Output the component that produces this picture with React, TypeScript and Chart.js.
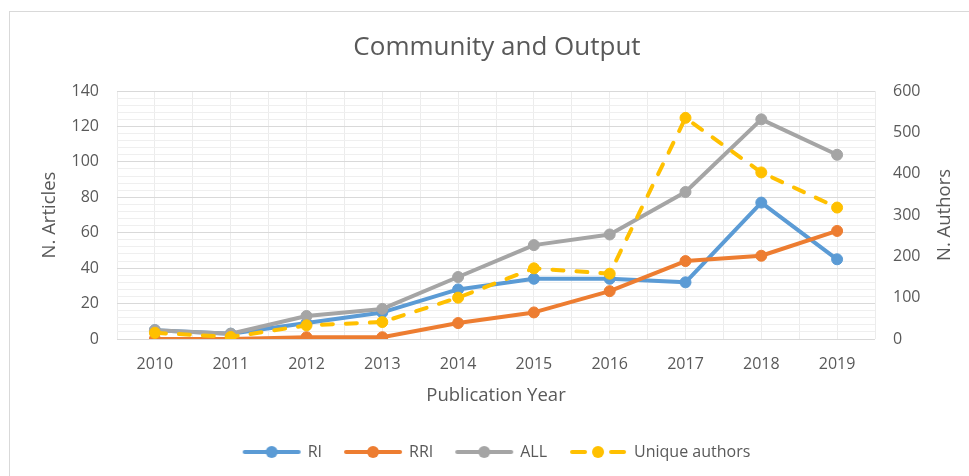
import React, { useEffect, useRef } from "react";
import { Chart, registerables } from "chart.js";

Chart.register(...registerables);

const years = ["2010", "2011", "2012", "2013", "2014", "2015", "2016", "2017", "2018", "2019"];
const riValues = [5, 3, 9, 15, 28, 34, 34, 32, 77, 45];
const rriValues = [0, 0, 1, 1, 9, 15, 27, 44, 47, 61];
const allValues = [5, 3, 13, 17, 35, 53, 59, 83, 124, 104];
const uniqueAuthors = [15, 5, 33, 41, 100, 171, 158, 535, 403, 318];
const rightAxisTitle = "N. Authors";

const FONT = "'Open Sans', 'DejaVu Sans', sans-serif";
const TEXT = "#595959";

function legendIcon(color: string, dashed: boolean): HTMLCanvasElement {
  const c = document.createElement("canvas");
  c.width = 60;
  c.height = 14;
  const g = c.getContext("2d")!;
  g.strokeStyle = color;
  g.lineWidth = 4;
  g.lineCap = "round";
  g.beginPath();
  if (dashed) {
    g.moveTo(4, 7);
    g.lineTo(17, 7);
    g.moveTo(43, 7);
    g.lineTo(56, 7);
  } else {
    g.moveTo(3, 7);
    g.lineTo(57, 7);
  }
  g.stroke();
  g.fillStyle = color;
  g.beginPath();
  g.arc(30, 7, 6, 0, Math.PI * 2);
  g.fill();
  return c;
}

const rightTitlePlugin = {
  id: "rightTitle",
  afterDraw(chart: any) {
    const s = chart.scales.y1;
    if (!s) return;
    const ctx = chart.ctx;
    const area = chart.chartArea;
    ctx.save();
    ctx.translate(s.right - 49, (area.top + area.bottom) / 2);
    ctx.rotate(-Math.PI / 2);
    ctx.font = `18.5px ${FONT}`;
    ctx.fillStyle = TEXT;
    ctx.textAlign = "center";
    ctx.textBaseline = "middle";
    ctx.fillText(rightAxisTitle, 0, 0);
    ctx.restore();
  },
};

export default function App() {
  const ref = useRef<HTMLCanvasElement | null>(null);

  useEffect(() => {
    if (!ref.current) return;
    const series = [
      { label: "RI", data: riValues, color: "#5B9BD5", axis: "y", dashed: false, order: 3 },
      { label: "RRI", data: rriValues, color: "#ED7D31", axis: "y", dashed: false, order: 2 },
      { label: "ALL", data: allValues, color: "#A5A5A5", axis: "y", dashed: false, order: 1 },
      { label: "Unique authors", data: uniqueAuthors, color: "#FFC000", axis: "y1", dashed: true, order: 0 },
    ];
    const icons = series.map((s) => legendIcon(s.color, s.dashed));
    const firstYear = Number(years[0]);
    const lastYear = Number(years[years.length - 1]);
    const chart = new Chart(ref.current, {
      type: "line",
      plugins: [rightTitlePlugin],
      data: {
        labels: years,
        datasets: series.map((s) => ({
          label: s.label,
          data: s.data,
          yAxisID: s.axis,
          xAxisID: "x",
          order: s.order,
          borderColor: s.color,
          backgroundColor: s.color,
          pointBackgroundColor: s.color,
          pointBorderColor: s.color,
          borderWidth: 4,
          pointRadius: 5.5,
          pointBorderWidth: 1,
          borderDash: s.dashed ? [11, 13] : [],
          borderCapStyle: "round" as const,
          borderJoinStyle: "round" as const,
          tension: 0,
          fill: false,
        })),
      },
      options: {
        responsive: false,
        animation: false,
        devicePixelRatio: 1,
        layout: { padding: { left: 0, right: 0, top: 0, bottom: 6 } },
        plugins: {
          tooltip: { enabled: false },
          title: {
            display: true,
            text: "Community and Output",
            color: TEXT,
            font: { family: FONT, size: 26, weight: "normal" },
            padding: { top: 32.4, bottom: 27.4 },
          },
          legend: {
            display: true,
            position: "bottom",
            labels: {
              usePointStyle: true,
              pointStyleWidth: 56,
              padding: 23,
              color: TEXT,
              font: { family: FONT, size: 16 },
              generateLabels: () =>
                series.map((s, i) => ({
                  text: s.label,
                  fillStyle: s.color,
                  strokeStyle: s.color,
                  lineWidth: 0,
                  pointStyle: icons[i],
                  datasetIndex: i,
                  hidden: false,
                  fontColor: TEXT,
                })),
            },
          },
        },
        scales: {
          x: {
            type: "linear",
            position: "bottom",
            min: firstYear - 0.5,
            max: lastYear + 0.5,
            grid: { display: true, color: "#ececec", lineWidth: 1, drawTicks: false },
            border: { display: false },
            ticks: {
              stepSize: 0.5,
              autoSkip: false,
              maxRotation: 0,
              color: TEXT,
              font: { family: FONT, size: 16 },
              padding: 15.4,
              callback: (v: any) => {
                const n = Number(v);
                return Math.abs(n - Math.round(n)) < 1e-6 ? String(Math.round(n)) : "";
              },
            },
            title: {
              display: true,
              text: "Publication Year",
              color: TEXT,
              font: { family: FONT, size: 18.5 },
              padding: { top: 4, bottom: 13.9 },
            },
            afterFit: (scale: any) => {
              scale.height = 82;
            },
          },
          y: {
            type: "linear",
            position: "left",
            min: 0,
            max: 140,
            grid: {
              drawTicks: false,
              color: (ctx: any) => (ctx.tick && ctx.tick.value % 20 === 0 ? "#d9d9d9" : "#efefef"),
              lineWidth: 1,
            },
            border: { display: false },
            ticks: {
              stepSize: 4,
              autoSkip: false,
              padding: 18,
              color: TEXT,
              font: { family: FONT, size: 16 },
              callback: (v: any) => (Number(v) % 20 === 0 ? String(v) : ""),
            },
            title: {
              display: true,
              text: "N. Articles",
              color: TEXT,
              font: { family: FONT, size: 18.5 },
              padding: { top: 39, bottom: 0 },
            },
            afterFit: (scale: any) => {
              scale.width = 117;
            },
          },
          y1: {
            type: "linear",
            position: "right",
            min: 0,
            max: 600,
            grid: { display: false, drawTicks: false },
            border: { display: false },
            ticks: {
              stepSize: 100,
              padding: 18,
              color: TEXT,
              font: { family: FONT, size: 16 },
            },
            title: { display: false },
            afterFit: (scale: any) => {
              scale.width = 119;
            },
          },
        },
      },
    });
    return () => chart.destroy();
  }, []);

  return (
    <div
      style={{
        position: "fixed",
        left: 0,
        top: 0,
        width: 969,
        height: 476,
        overflow: "hidden",
        background: "#ffffff",
      }}
    >
      <div
        style={{
          position: "absolute",
          left: 9,
          top: 11,
          width: 1000,
          height: 500,
          border: "1px solid #d9d9d9",
          boxSizing: "border-box",
        }}
      />
      <canvas ref={ref} width={994} height={476} style={{ position: "absolute", left: 0, top: 0 }} />
    </div>
  );
}
